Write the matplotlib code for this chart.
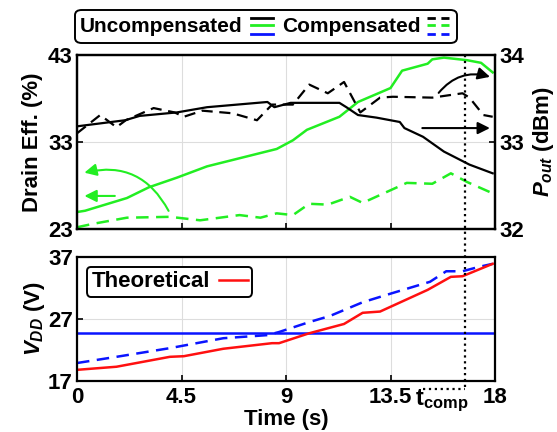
import matplotlib
matplotlib.use("Agg")
import matplotlib.pyplot as plt
import matplotlib.transforms as mtransforms
from matplotlib.lines import Line2D
from matplotlib.patches import FancyBboxPatch

plt.rcParams['font.family'] = ['Liberation Sans', 'DejaVu Sans']
plt.rcParams['font.weight'] = 'bold'
plt.rcParams['mathtext.fontset'] = 'custom'
plt.rcParams['mathtext.rm'] = 'Liberation Sans:bold'
plt.rcParams['mathtext.it'] = 'Liberation Sans:italic:bold'
plt.rcParams['mathtext.bf'] = 'Liberation Sans:bold'

GREEN = '#22ee22'
BLUE = '#0a14ff'
RED = '#ff1010'

# uncompensated output power (dBm)
t_pu = [0, 2.07, 2.7, 4.3, 5.6, 8.2, 8.5, 9.2, 11.3, 11.6, 12.1, 12.9, 13.9,
        14.1, 14.9, 15.8, 16.9, 17.9]
p_unc = [33.18, 33.25, 33.30, 33.34, 33.40, 33.46, 33.40, 33.45, 33.45, 33.40,
         33.31, 33.28, 33.23, 33.16, 33.06, 32.89, 32.74, 32.64]

# compensated output power (dBm)
t_pc = [0, 1.0, 1.7, 2.1, 3.3, 4.2, 4.6, 5.4, 6.7, 7.75, 8.4, 9.3, 10.0, 10.8,
        11.5, 12.2, 13.05, 13.6, 15.3, 16.6, 16.9, 17.5, 17.9]
p_comp = [33.10, 33.31, 33.17, 33.25, 33.39, 33.34, 33.29, 33.36, 33.33, 33.25,
          33.43, 33.43, 33.66, 33.56, 33.69, 33.34, 33.51, 33.52, 33.51, 33.56,
          33.51, 33.31, 33.29]

# uncompensated drain efficiency (%)
t_eu = [0, 0.35, 2.15, 3.1, 4.3, 5.6, 8.6, 9.3, 9.9, 11.3, 12.1, 13.5, 14.0,
        15.1, 15.3, 15.8, 16.8, 17.4, 17.9]
e_unc = [24.95, 25.1, 26.56, 27.8, 28.9, 30.2, 32.2, 33.2, 34.4, 35.9, 37.6,
         39.2, 41.2, 42.0, 42.5, 42.7, 42.4, 42.1, 41.0]

# compensated drain efficiency (%)
t_ec = [0, 0.7, 2.15, 4.0, 5.3, 7.0, 7.9, 8.6, 9.3, 10.0, 10.8, 11.75, 12.3,
        14.2, 15.3, 16.1, 16.8, 17.9]
e_comp = [23.2, 23.6, 24.3, 24.4, 24.0, 24.6, 24.3, 24.8, 24.6, 25.9, 25.8,
          26.7, 26.0, 28.3, 28.2, 29.4, 28.4, 27.1]

# supply voltage (V)
vdd_unc = 24.7
t_vt = [0, 1.7, 4.0, 4.6, 6.3, 8.4, 8.7, 10.0, 11.5, 12.3, 13.05, 15.1, 16.1,
        16.6, 17.9]
v_theo = [18.8, 19.3, 20.9, 21.0, 22.2, 23.1, 23.1, 24.7, 26.2, 28.0, 28.2,
          31.7, 33.8, 33.9, 35.9]
t_vc = [0, 1.7, 4.0, 6.3, 8.2, 8.7, 10.0, 10.9, 12.3, 13.6, 15.2, 15.9, 16.6,
        17.3, 17.9]
v_comp = [19.9, 20.9, 22.3, 23.9, 24.4, 24.9, 26.5, 27.5, 29.7, 31.2, 33.0,
          34.7, 34.7, 35.4, 35.9]

t_comp = 16.7
xticks = [0, 4.5, 9, 13.5, 18]
xtick_labels = ['0', '4.5', '9', '13.5', '18']

W, H = 557, 432
fig = plt.figure(figsize=(W / 100, H / 100), dpi=100)


def box(l, t, r, b):
    return [l / W, 1 - b / H, (r - l) / W, (b - t) / H]


ax1 = fig.add_axes(box(77, 55, 495, 229))
ax2 = ax1.twinx()
ax3 = fig.add_axes(box(77, 257, 495, 381))

FS = 16
DASH = (0, (5, 3))
for ax in (ax1, ax2, ax3):
    for sp in ax.spines.values():
        sp.set_linewidth(1.6)
    ax.tick_params(direction='in', length=4, width=1.2, labelsize=FS, pad=3)

# top panel
ax1.plot(t_eu, e_unc, color=GREEN, lw=1.8)
ax1.plot(t_ec, e_comp, color=GREEN, lw=1.8, ls=DASH)
ax2.plot(t_pu, p_unc, color='k', lw=1.6)
ax2.plot(t_pc, p_comp, color='k', lw=1.6, ls=DASH)

ax1.set_xlim(0, 18)
ax1.set_ylim(23, 43)
ax1.set_yticks([23, 33, 43])
ax1.set_xticks(xticks)
ax1.set_xticklabels([])
ax1.grid(True, color='#dddddd', lw=0.8)
ax1.set_axisbelow(True)
ax2.set_ylim(32, 34)
ax2.set_yticks([32, 33, 34])
ax1.set_ylabel('Drain Eff. (%)', fontsize=16, fontweight='bold', labelpad=4)
ax2.set_ylabel('$P_{out}$ (dBm)', fontsize=16, fontweight='bold', labelpad=5)

# arrows pointing to axes
ax1.annotate('', xy=(0.2, 29.4), xytext=(4.0, 24.8),
             arrowprops=dict(arrowstyle='-|>', color=GREEN, lw=1.5,
                             mutation_scale=18,
                             connectionstyle='arc3,rad=0.4'))
ax1.annotate('', xy=(0.2, 26.8), xytext=(1.75, 26.8),
             arrowprops=dict(arrowstyle='-|>', color=GREEN, lw=1.5,
                             mutation_scale=18))
ax2.annotate('', xy=(17.9, 33.74), xytext=(15.5, 33.54),
             arrowprops=dict(arrowstyle='-|>', color='k', lw=1.5,
                             mutation_scale=18,
                             connectionstyle='arc3,rad=-0.35'))
ax2.annotate('', xy=(17.9, 33.16), xytext=(14.75, 33.16),
             arrowprops=dict(arrowstyle='-|>', color='k', lw=1.5,
                             mutation_scale=18))

# bottom panel
ax3.axhline(vdd_unc, color=BLUE, lw=1.8)
ax3.plot(t_vc, v_comp, color=BLUE, lw=1.8, ls=DASH)
ax3.plot(t_vt, v_theo, color=RED, lw=1.8, label='Theoretical')
ax3.set_xlim(0, 18)
ax3.set_ylim(17, 37)
ax3.set_yticks([17, 27, 37])
ax3.set_xticks(xticks)
ax3.set_xticklabels(xtick_labels)
ax3.tick_params(axis='x', pad=4)
ax3.grid(True, color='#dddddd', lw=0.8)
ax3.set_axisbelow(True)
ax3.set_ylabel('$V_{DD}$ (V)', fontsize=16, fontweight='bold', labelpad=1)
ax3.set_xlabel('Time (s)', fontsize=16, fontweight='bold', labelpad=1)
leg = ax3.legend(loc='upper left', markerfirst=False, fontsize=FS,
                 handlelength=1.3, handletextpad=0.4, borderpad=0.2,
                 borderaxespad=0.45, fancybox=True, edgecolor='k',
                 framealpha=1)
leg.get_frame().set_linewidth(1.4)
for txt in leg.get_texts():
    txt.set_fontweight('bold')

# t_comp marker
blend = mtransforms.blended_transform_factory(ax3.transData, fig.transFigure)
fig.add_artist(Line2D([t_comp, t_comp], [1 - 55 / H, 1 - 389 / H],
                      transform=blend, color='k', lw=1.6, ls=':'))
fig.add_artist(Line2D([14.9, t_comp], [1 - 389 / H, 1 - 389 / H],
                      transform=blend, color='k', lw=1.6, ls=':'))
ax3.text(14.55, -0.055, r'$\mathrm{t}_{\mathrm{comp}}$',
         transform=ax3.get_xaxis_transform(),
         fontsize=FS + 1, ha='left', va='top')

# legend on top
fig.add_artist(FancyBboxPatch((75 / W, 1 - 43 / H), (457 - 75) / W, 33 / H,
                              boxstyle='round,pad=0,rounding_size=0.012',
                              transform=fig.transFigure, fc='white', ec='k',
                              lw=1.4))
fig.text(80 / W, 1 - 27 / H, 'Uncompensated', fontsize=15, fontweight='bold',
         va='center', ha='left')
fig.text(282 / W, 1 - 27 / H, 'Compensated', fontsize=15, fontweight='bold',
         va='center', ha='left')
for y, c in ((18, 'k'), (25, GREEN), (34, BLUE)):
    fig.add_artist(Line2D([251 / W, 273 / W], [1 - y / H, 1 - y / H],
                          transform=fig.transFigure, color=c, lw=2))
    fig.add_artist(Line2D([427 / W, 449 / W], [1 - y / H, 1 - y / H],
                          transform=fig.transFigure, color=c, lw=2,
                          ls=(0, (3, 2))))

fig.savefig('out.png', dpi=100)
